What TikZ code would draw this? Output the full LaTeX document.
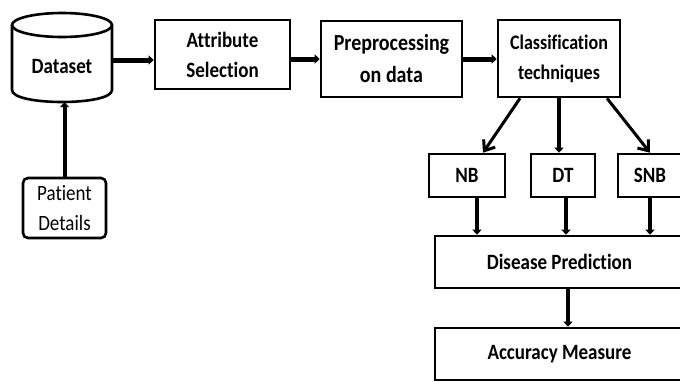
\documentclass[tikz,border=0pt]{standalone}
\usepackage{fontspec}
\setmainfont{Carlito}[Ligatures=NoCommon]
\usetikzlibrary{arrows.meta,calc}
\newcommand{\vs}[1]{\scalebox{1}[1.15]{#1}}
\begin{document}
\begin{tikzpicture}[x=1pt,y=-1pt,
  box/.style={draw=black,line width=2.6pt,inner sep=0pt,align=center,
    font=\fontsize{19}{30}\selectfont\bfseries},
  conn/.style={line width=4pt,-{Triangle[length=5pt,width=9pt]}},
  diag/.style={line width=3pt,-{Straight Barb[length=9pt,width=14pt,line width=3pt]}}]
\useasboundingbox (0,0) rectangle (680,381);
\clip (0,0) rectangle (680,381);
\fill[white] (0,0) rectangle (680,381);
% Dataset cylinder
\node[inner sep=0pt,minimum width=100pt,minimum height=72pt,
  font=\fontsize{19}{30}\selectfont\bfseries] (dataset) at (62,66) {\vs{Dataset}};
\draw[line width=2.6pt] (62,25) ellipse [x radius=50, y radius=12];
\draw[line width=2.6pt] (12,25) -- (12,90) .. controls (12,106) and (112,106) .. (112,90) -- (112,25);
% boxes
\node[box,rounded corners=5pt,minimum width=83pt,minimum height=60pt,
  font=\fontsize{19}{30}\selectfont] (patient) at (64.5,208) {\vs{Patient}\\\vs{Details}};
\node[box,minimum width=135pt,minimum height=69pt] (attr) at (222.5,54.5) {\vs{Attribute}\\\vs{Selection}};
\node[box,minimum width=141pt,minimum height=76pt,font=\fontsize{20}{32}\selectfont\bfseries] (prep) at (391.5,59) {\vs{Preprocessing}\\\vs{on data}};
\node[box,minimum width=122pt,minimum height=77pt,font=\fontsize{18}{30}\selectfont\bfseries] (class) at (559,58.5) {\vs{Classification}\\\vs{techniques}};
\node[box,minimum width=76pt,minimum height=43pt] (nb) at (467,175.5) {\vs{NB}};
\node[box,minimum width=64pt,minimum height=43pt] (dt) at (563,175.5) {\vs{DT}};
\node[box,minimum width=64pt,minimum height=43pt] (snb) at (650,175.5) {\vs{SNB}};
\node[box,minimum width=249pt,minimum height=52pt] (dp) at (559.5,262) {\vs{Disease Prediction}};
\node[box,minimum width=249pt,minimum height=52pt] (acc) at (559.5,354) {\vs{Accuracy Measure}};
% connectors
\draw[conn] (patient.north) -- (patient.north |- dataset.south);
\draw[conn,line width=5pt] ([yshift=6pt]dataset.east) -- ([yshift=6pt]dataset.east -| attr.west);
\draw[conn,line width=5pt] (attr.east |- prep.west) -- (prep.west);
\draw[conn,line width=5pt] (prep.east) -- (prep.east -| class.west);
\draw[diag] ([xshift=-39pt]class.south) -- ([xshift=16pt]nb.north);
\draw[conn] (class.south) -- (class.south |- dt.north);
\draw[diag] ([xshift=48pt]class.south) -- (snb.north);
\draw[conn] ([xshift=10pt]nb.south) -- ([xshift=10pt]nb.south |- dp.north);
\draw[conn] ([xshift=3pt]dt.south) -- ([xshift=3pt]dt.south |- dp.north);
\draw[conn] (snb.south) -- (snb.south |- dp.north);
\draw[conn] ([xshift=8.5pt]dp.south) -- ([xshift=8.5pt]dp.south |- acc.north);
\end{tikzpicture}
\end{document}
